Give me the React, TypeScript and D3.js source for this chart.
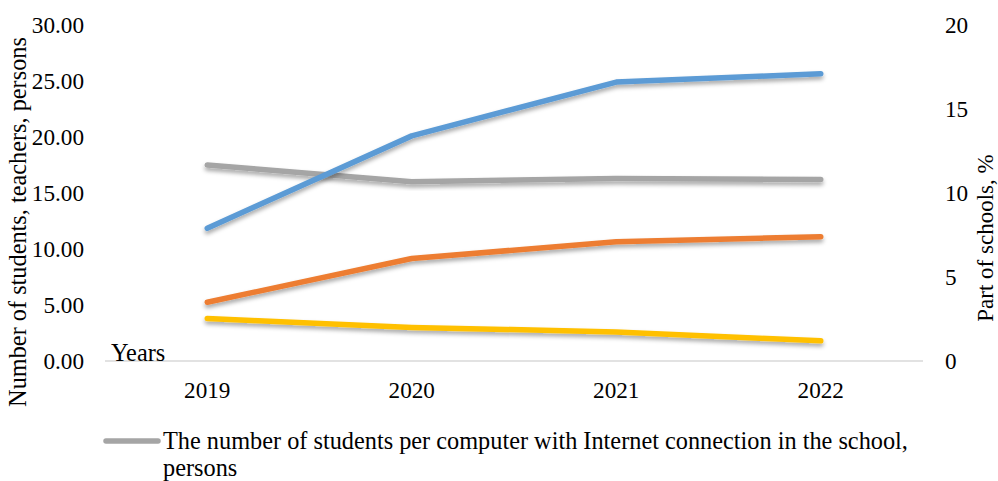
import React from "react";
import * as d3 from "d3";

const years = ["2019", "2020", "2021", "2022"];
// left axis series (persons)
const studentsPerComputer = [17.5, 16.0, 16.3, 16.2];
const yellowSeries = [3.8, 3.0, 2.6, 1.8];
// right axis series (part of schools, %)
const blueSeries = [7.9, 13.4, 16.6, 17.1];
const orangeSeries = [3.5, 6.1, 7.1, 7.4];

const leftTicks = [0, 5, 10, 15, 20, 25, 30];
const rightTicks = [0, 5, 10, 15, 20];

const W = 998;
const H = 481;
const plotLeft = 105;
const plotRight = 923;
const plotTop = 25;
const plotBottom = 361;
const FONT = "'Liberation Serif', 'Times New Roman', serif";
const NUM = 23.2;
const TXT = 24.3;

export default function App() {
  const x = d3.scaleBand<string>().domain(years).range([plotLeft, plotRight]);
  const yL = d3.scaleLinear().domain([0, 30]).range([plotBottom, plotTop]);
  const yR = d3.scaleLinear().domain([0, 20]).range([plotBottom, plotTop]);
  const cx = (d: string) => (x(d) as number) + x.bandwidth() / 2;

  const lineL = d3
    .line<number>()
    .x((_, i) => cx(years[i]))
    .y((v) => yL(v));
  const lineR = d3
    .line<number>()
    .x((_, i) => cx(years[i]))
    .y((v) => yR(v));

  const series = [
    { d: lineL(studentsPerComputer), color: "#A5A5A5" },
    { d: lineR(blueSeries), color: "#5B9BD5" },
    { d: lineR(orangeSeries), color: "#ED7D31" },
    { d: lineL(yellowSeries), color: "#FFC000" },
  ];

  return (
    <div style={{ position: "absolute", left: 0, top: 0 }}>
      <svg width={W} height={H} style={{ display: "block", background: "#fff" }}>
        <defs>
          <filter id="shadow" x="-10%" y="-50%" width="120%" height="200%">
            <feDropShadow dx="0" dy="3" stdDeviation="2" floodColor="#000" floodOpacity="0.35" />
          </filter>
        </defs>
        {/* baseline */}
        <line x1={plotLeft} x2={plotRight} y1={plotBottom} y2={plotBottom} stroke="#D9D9D9" strokeWidth={1.5} />
        {/* left ticks */}
        {leftTicks.map((t) => (
          <text key={"l" + t} x={84} y={yL(t)} dy="0.35em" textAnchor="end" fontFamily={FONT} fontSize={NUM} fill="#000">
            {t.toFixed(2)}
          </text>
        ))}
        {/* right ticks */}
        {rightTicks.map((t) => (
          <text key={"r" + t} x={945} y={yR(t)} dy="0.35em" textAnchor="start" fontFamily={FONT} fontSize={NUM} fill="#000">
            {t}
          </text>
        ))}
        {/* x labels */}
        {years.map((yv) => (
          <text key={yv} x={cx(yv)} y={390} dy="0.35em" textAnchor="middle" fontFamily={FONT} fontSize={NUM} fill="#000">
            {yv}
          </text>
        ))}
        <text x={111} y={361} fontFamily={FONT} fontSize={TXT} fill="#000">
          Years
        </text>
        {/* axis titles */}
        <text transform="translate(26,222) rotate(-90)" textAnchor="middle" fontFamily={FONT} fontSize={TXT} fill="#000">
          Number of students, teachers, persons
        </text>
        <text transform="translate(993,238) rotate(-90)" textAnchor="middle" fontFamily={FONT} fontSize={23} fill="#000">
          Part of schools, %
        </text>
        {/* lines */}
        {series.map((s, i) => (
          <path key={i} d={s.d || ""} fill="none" stroke={s.color} strokeWidth={5.5} strokeLinecap="round" strokeLinejoin="round" filter="url(#shadow)" />
        ))}
        {/* legend */}
        <line x1={106} x2={158} y1={441} y2={441} stroke="#A5A5A5" strokeWidth={5.5} strokeLinecap="round" />
        <text x={163} y={449} fontFamily={FONT} fontSize={TXT} fill="#000">
          The number of students per computer with Internet connection in the school,
        </text>
        <text x={163} y={476} fontFamily={FONT} fontSize={TXT} fill="#000">
          persons
        </text>
      </svg>
    </div>
  );
}
